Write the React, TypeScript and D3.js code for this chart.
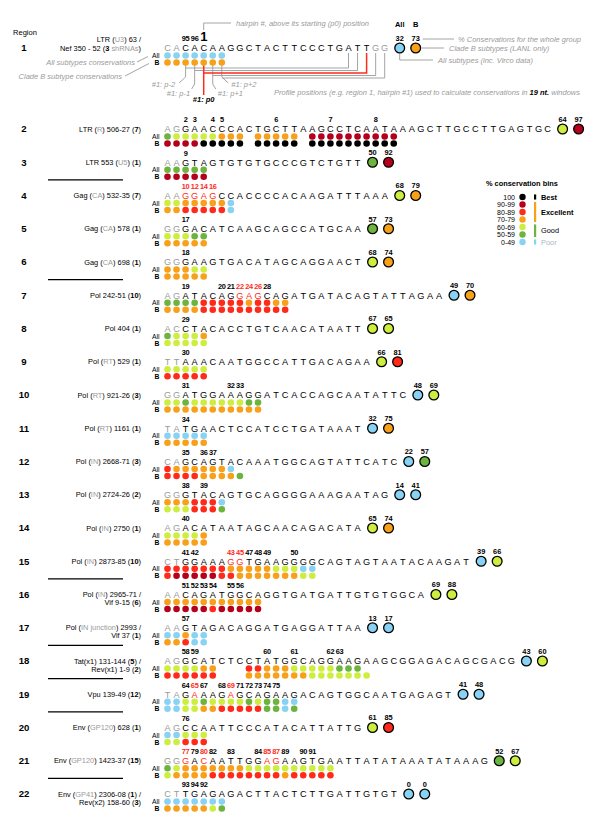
import * as d3 from 'd3';
import React from 'react';

// conservation bins (code -> colour)
const binCodes = ['k', 'd', 'r', 'o', 'y', 'g', 'b'];
const binLabels = ['100', '90-99', '80-89', '70-79', '60-69', '50-59', '0-49'];
const binColors = ['#000000', '#b5001c', '#ff2a1a', '#f8a01a', '#cdee3f', '#6cb43e', '#88d2f4'];

const regionIds = d3.range(1, 23);

// {..} = grey text, [..] = bold text
const regionLabels = [
    ['LTR ({U3}) 63 /', 'Nef 350 - 52 ([3] {shRNAs})'],
    ['LTR ({R}) 506-27 ([7])'],
    ['LTR 553 ({U5}) ([1])'],
    ['Gag ({CA}) 532-35 ([7])'],
    ['Gag ({CA}) 578 ([1])'],
    ['Gag ({CA}) 698 ([1])'],
    ['Pol 242-51 ([10])'],
    ['Pol 404 ([1])'],
    ['Pol ({RT}) 529 ([1])'],
    ['Pol ({RT}) 921-26 ([3])'],
    ['Pol ({RT}) 1161 ([1])'],
    ['Pol ({IN}) 2668-71 ([3])'],
    ['Pol ({IN}) 2724-26 ([2])'],
    ['Pol ({IN}) 2750 ([1])'],
    ['Pol ({IN}) 2873-85 ([10])'],
    ['Pol ({IN}) 2965-71 /', 'Vif 9-15 ([6])'],
    ['Pol ({IN junction}) 2993 /', 'Vif 37 ([1])'],
    ['Tat(x1) 131-144 ([5]) /', 'Rev(x1) 1-9 ([2])'],
    ['Vpu 139-49 ([12])'],
    ['Env ({GP120}) 628 ([1])'],
    ['Env ({GP120}) 1423-37 ([15])'],
    ['Env ({GP41}) 2306-08 ([1]) /', 'Rev(x2) 158-60 ([3])'],
];

const sequences = [
    'CACACAAGGCTACTTCCCTGATTGG',
    'AGGAACCCACTGCTTAAGCCTCAATAAAGCTTGCCTTGAGTGC',
    'AAGTAGTGTGTGCCCGTCTGTT',
    'AAGGAGCCACCCCACAAGATTTAAA',
    'GGGACATCAAGCAGCCATGCAA',
    'GGGAAGTGACATAGCAGGAACT',
    'AGATACAGGAGCAGATGATACAGTATTAGAA',
    'ACCTACACCTGTCAACATAATT',
    'TTAAACAATGGCCATTGACAGAA',
    'GGATGGAAAGGATCACCAGCAATATTC',
    'TATGAACTCCATCCTGATAAAT',
    'CAGCAGTACAAATGGCAGTATTCATC',
    'GGGTACAGTGCAGGGGAAAGAATAG',
    'AGACATAATAGCAACAGACATA',
    'CTGGAAAGGTGAAGGGGCAGTAGTAATACAAGAT',
    'AACAGATGGCAGGTGATGATTGTGTGGCA',
    'AAGTAGACAGGATGAGGATTAA',
    'AGGCATCTCCTATGGCAGGAAGAAGCGGAGACAGCGACG',
    'TAGAAAGAGCAGAAGACAGTGGCAATGAGAGT',
    'AGCCAATTCCCATACATTATTG',
    'GGGACAATTGGAGAAGTGAATTATATAAATATAAAG',
    'CTTGAGAGACTTACTCTTGATTGTGT',
];

const grayHead = 2;
const grayTail = [2, 0, 0, 0, 0, 0, 0, 0, 0, 0, 0, 0, 0, 0, 0, 0, 0, 0, 0, 0, 0, 0];

const hairpinNums = [
    [95, 96, 1],
    [2, 3, 4, 5, 6, 7, 8],
    [9],
    [10, 12, 14, 16],
    [17],
    [18],
    [19, 20, 21, 22, 24, 26, 28],
    [29],
    [30],
    [31, 32, 33],
    [34],
    [35, 36, 37],
    [38, 39],
    [40],
    [41, 42, 43, 45, 47, 48, 49, 50],
    [51, 52, 53, 54, 55, 56],
    [57],
    [58, 59, 60, 61, 62, 63],
    [64, 65, 67, 68, 69, 71, 72, 73, 74, 75],
    [76],
    [77, 79, 80, 82, 83, 84, 85, 87, 89, 90, 91],
    [93, 94, 92],
];

const hairpinPos = [
    [2, 3, 4],
    [2, 3, 5, 6, 12, 18, 23],
    [2],
    [2, 3, 4, 5],
    [2],
    [2],
    [2, 6, 7, 8, 9, 10, 11],
    [2],
    [2],
    [2, 7, 8],
    [2],
    [2, 4, 5],
    [2, 4],
    [2],
    [2, 3, 7, 8, 9, 10, 11, 14],
    [2, 3, 4, 5, 7, 8],
    [2],
    [2, 3, 11, 14, 18, 19],
    [2, 3, 4, 6, 7, 8, 9, 10, 11, 12],
    [2],
    [2, 3, 4, 5, 7, 10, 11, 12, 13, 15, 16],
    [2, 3, 4],
];

const redHairpins = [10, 12, 14, 16, 22, 24, 26, 43, 45, 65, 69, 77, 80, 85, 87];

// per-position bins, space = no profile position
const allBins = [
    'bbbbbbb',
    'gyyyyyooo ooooo dddddddddd',
    'ggggg',
    'yyooooob',
    'yyygg',
    'oooyy',
    'ggggrrrrrorroo',
    'gyyyo',
    'yyyyy',
    'yygyyyyyygg',
    'bbbbb',
    'roooooob',
    'ooorrrb',
    'yyyyo',
    'rrrrrrroooooyyybb',
    'ooooooooooo',
    'bbobb',
    'yyyyoo   rroooyyyyyggg',
    'bbyygyyyygyggbb',
    'bbyyy',
    'gyoooooooyyyyyyyyyy',
    'bbbbbbb',
];

const bBins = [
    'ooooooo',
    'ddddkkkkk kkkkk kkkkkkkkkk',
    'ddddd',
    'oorrrrrb',
    'ooooo',
    'ooooo',
    'oooorrrrrrrrrr',
    'yyyyy',
    'rrrrr',
    'ooooooooooo',
    'ooooo',
    'rrrroooog',
    'yyyrrrg',
    'ooooo',
    'rdddddrroooooooyy',
    'dddddrddddd',
    'oorbb',
    'rrrrrr   oooooooyyyyyyy',
    'bbyyoorrrrrggbg',
    'yyrrr',
    'yoooorrrrrrrrorrrrr',
    'oooooyg',
];

const allTotals = [32, 64, 50, 68, 57, 68, 49, 67, 66, 48, 32, 22, 14, 65, 39, 69, 13, 43, 41, 61, 52, 0];
const bTotals = [73, 97, 92, 79, 73, 74, 70, 65, 81, 69, 75, 57, 41, 74, 66, 88, 17, 60, 48, 85, 67, 0];
// bin colour shown by each total circle
const allTotalBins = 'bygygybyybbbbybybbbygb';
const bTotalBins = 'oddooooyryogboyybybryb';

const separatorsAfter = [3, 6, 15, 17, 18, 19, 21];

const FONT = "'Liberation Sans', Arial, Helvetica, sans-serif";
const GREY = '#9a9a9a';

function parseRich(s: string) {
    return s
        .split(/(\{[^}]*\}|\[[^\]]*\])/)
        .filter(Boolean)
        .map((t) => {
            if (t.startsWith('{')) return { t: t.slice(1, -1), gray: true, bold: false };
            if (t.startsWith('[')) return { t: t.slice(1, -1), gray: false, bold: true };
            return { t, gray: false, bold: false };
        });
}

const RichText: React.FC<{ s: string; x: number; y: number; size?: number }> = ({ s, x, y, size = 7.4 }) => (
    <text x={x} y={y} textAnchor="end" fontSize={size} fontFamily={FONT}>
        {parseRich(s).map((p, i) => (
            <tspan key={i} fill={p.gray ? GREY : '#000'} fontWeight={p.bold ? 'bold' : 'normal'}>
                {p.t}
            </tspan>
        ))}
    </text>
);

const App: React.FC = () => {
    const width = 600;
    const height = 826;

    // nucleotide columns
    const x = d3.scaleLinear().domain([0, 1]).range([167.5, 176.55]);
    // region rows
    const y = d3.scaleLinear().domain([2, 22]).range([129, 794]);
    const rowY = (id: number) => (id === 1 ? 48 : y(id));

    const binColor = d3.scaleOrdinal<string, string>().domain(binCodes).range(binColors);

    const legY = d3.scalePoint<string>().domain(binLabels).range([197, 242]);
    const legendGroups = [
        { label: 'Best', from: 0, to: 0, color: '#000', text: '#000', bold: true, at: 0 },
        { label: 'Excellent', from: 1, to: 3, color: binColors[3], text: '#000', bold: true, at: 2 },
        { label: 'Good', from: 4, to: 5, color: binColors[5], text: '#000', bold: false, at: 4.5 },
        { label: 'Poor', from: 6, to: 6, color: binColors[6], text: '#a8b8c0', bold: false, at: 6 },
    ];
    const legStep = legY.step();

    // region 1 schema
    const r1 = rowY(1);
    const c1x = x(sequences[0].length - 1) + 15;
    const c2x = c1x + 16;
    const levels = [68, 70.5, 73, 75.5, 78];
    const profile = [
        { p: 'p-2', i: 2, down: 77, dx: -6.5, dy: 6, lx: -10.5, ly: 87, anchor: 'end' },
        { p: 'p-1', i: 3, down: 84, dx: -3, dy: 5, lx: -4.5, ly: 96, anchor: 'end' },
        { p: 'p0', i: 4, down: 95, dx: 0, dy: 0, lx: 0, ly: 102, anchor: 'middle' },
        { p: 'p+1', i: 5, down: 84, dx: 3, dy: 5, lx: 5, ly: 96, anchor: 'start' },
        { p: 'p+2', i: 6, down: 77, dx: 6.5, dy: 6, lx: 9.5, ly: 87, anchor: 'start' },
    ];

    return (
        <svg
            width={width}
            height={height}
            style={{ position: 'absolute', left: 0, top: 0, background: '#fff' }}
            fontFamily={FONT}
        >
            <rect width={width} height={height} fill="#fff" />

            {/* header */}
            <text x={25} y={35} fontSize={7.5} textAnchor="middle">
                Region
            </text>
            <text x={c1x} y={27} fontSize={7.5} fontWeight="bold" textAnchor="middle">
                All
            </text>
            <text x={c2x} y={27} fontSize={7.5} fontWeight="bold" textAnchor="middle">
                B
            </text>

            {/* region 1 annotations */}
            <g fill="none" stroke={GREY} strokeWidth={0.9}>
                <path d={`M${x(4)},30V23H231`} />
                <path d={`M${c2x + 7},39H454`} />
                <path d={`M${c2x + 6},${r1}H444`} />
                <path d={`M${c1x},${r1 + 5.5}V60H433`} />
                <path d="M137,62L148,56.5" />
                <path d="M125,76L149,63.5" />
                {profile.map((d) =>
                    d.p === 'p0' ? null : (
                        <path key={d.p} d={`M${x(d.i)},${r1 + 16}V${d.down}l${d.dx},${d.dy}`} />
                    ),
                )}
                {profile.map((d, k) =>
                    d.p === 'p0' ? null : (
                        <path key={'w' + d.p} d={`M${x(d.i)},${levels[k]}H${x(d.i + 18)}V${r1 + 5}`} />
                    ),
                )}
            </g>
            <g fill="none" stroke="#ff2a1a" strokeWidth={1.5}>
                <path d={`M${x(4)},${r1 + 16}V${profile[2].down}`} />
                <path d={`M${x(4)},${levels[2]}H${x(22)}V${r1 + 5}`} />
            </g>
            <g fontSize={7.5} fontStyle="italic" fill={GREY}>
                <text x={236} y={25.5}>
                    hairpin #, above its starting (p0) position
                </text>
                <text x={458} y={41.5}>
                    % Conservations for the whole group
                </text>
                <text x={449} y={50.5}>
                    Clade B subtypes (LANL only)
                </text>
                <text x={438} y={62.5}>
                    All subtypes (inc. Virco data)
                </text>
                <text x={135} y={64.5} textAnchor="end">
                    All subtypes conservations
                </text>
                <text x={122} y={79} textAnchor="end">
                    Clade B subtype conservations
                </text>
                <text x={274} y={94.5}>
                    Profile positions (e.g. region 1, hairpin #1) used to calculate conservations in{' '}
                    <tspan fill="#000" fontWeight="bold">
                        19 nt.
                    </tspan>{' '}
                    windows
                </text>
                {profile.map((d) => (
                    <text
                        key={d.p}
                        x={x(d.i) + d.lx}
                        y={d.ly}
                        textAnchor={d.anchor as any}
                        fill={d.p === 'p0' ? '#000' : GREY}
                        fontWeight={d.p === 'p0' ? 'bold' : 'normal'}
                    >
                        #1: {d.p}
                    </text>
                ))}
            </g>

            {/* separators */}
            {separatorsAfter.map((id) => {
                const sy = (rowY(id) + rowY(id + 1)) / 2 + 1;
                return <line key={id} x1={48} x2={123} y1={sy} y2={sy} stroke="#000" strokeWidth={1.4} />;
            })}

            {/* regions */}
            {regionIds.map((id, ri) => {
                const cy = rowY(id);
                const seq = sequences[ri];
                const last = seq.length - 1;
                const cx1 = x(last) + 15;
                const cx2 = cx1 + 16;
                const lines = regionLabels[ri];
                const redPos = hairpinPos[ri].filter((p, k) => redHairpins.includes(hairpinNums[ri][k]));
                const labelYs = id === 1 ? [cy - 9, cy] : [cy, cy + 8];
                return (
                    <g key={id}>
                        <text x={24} y={cy + 3.4} fontSize={9.6} fontWeight="bold" textAnchor="middle">
                            {id}
                        </text>
                        {lines.map((l, k) => (
                            <RichText key={k} s={l} x={141} y={labelYs[k] + 2.7} />
                        ))}
                        {/* hairpin numbers */}
                        {hairpinNums[ri].map((n, k) => {
                            const big = id === 1 && n === 1;
                            return (
                                <text
                                    key={k}
                                    x={x(hairpinPos[ri][k])}
                                    y={id === 1 ? 40.5 : cy - 6.6}
                                    fontSize={big ? 13 : 7.4}
                                    fontWeight="bold"
                                    textAnchor="middle"
                                    fill={redHairpins.includes(n) ? '#ff2a1a' : '#000'}
                                    letterSpacing={-0.3}
                                >
                                    {n}
                                </text>
                            );
                        })}
                        {/* sequence */}
                        {seq.split('').map((c, i) => {
                            const gray = i < grayHead || i > last - grayTail[ri];
                            const red = redPos.includes(i);
                            return (
                                <text
                                    key={i}
                                    x={x(i)}
                                    y={cy + 3.3}
                                    fontSize={9.2}
                                    textAnchor="middle"
                                    fill={red ? '#ff2a1a' : gray ? GREY : '#000'}
                                >
                                    {c}
                                </text>
                            );
                        })}
                        {/* row labels */}
                        <text x={159.5} y={cy + 10} fontSize={6.8} textAnchor="end">
                            All
                        </text>
                        <text x={159.5} y={cy + 17} fontSize={6.8} fontWeight="bold" textAnchor="end">
                            B
                        </text>
                        {/* conservation dots */}
                        {allBins[ri].split('').map((b, i) =>
                            b === ' ' ? null : (
                                <circle key={'a' + i} cx={x(i)} cy={cy + 7.5} r={3.3} fill={binColor(b)} />
                            ),
                        )}
                        {bBins[ri].split('').map((b, i) =>
                            b === ' ' ? null : (
                                <circle key={'b' + i} cx={x(i)} cy={cy + 14.5} r={3.3} fill={binColor(b)} />
                            ),
                        )}
                        {/* totals */}
                        {[
                            [cx1, allTotals[ri], allTotalBins[ri]],
                            [cx2, bTotals[ri], bTotalBins[ri]],
                        ].map(([cx, v, b], k) => (
                            <g key={'t' + k}>
                                <circle
                                    cx={cx as number}
                                    cy={cy}
                                    r={4.9}
                                    fill={binColor(b as string)}
                                    stroke="#000"
                                    strokeWidth={1.3}
                                />
                                <text x={cx as number} y={cy - 7.2} fontSize={7.4} fontWeight="bold" textAnchor="middle">
                                    {v}
                                </text>
                            </g>
                        ))}
                    </g>
                );
            })}

            {/* legend */}
            <g>
                <text x={486} y={186} fontSize={7.4} fontWeight="bold">
                    % conservation bins
                </text>
                {binLabels.map((l, i) => (
                    <g key={l}>
                        <text x={515} y={(legY(l) ?? 0) + 2.6} fontSize={7} textAnchor="end">
                            {l}
                        </text>
                        <circle cx={522.5} cy={legY(l)} r={3.2} fill={binColors[i]} />
                    </g>
                ))}
                {legendGroups.map((g) => {
                    const y0 = (legY(binLabels[g.from]) ?? 0) - legStep / 2 + 1.2;
                    const y1 = (legY(binLabels[g.to]) ?? 0) + legStep / 2 - 1.2;
                    const ty = (legY(binLabels[0]) ?? 0) + g.at * legStep;
                    return (
                        <g key={g.label}>
                            <rect x={534} y={y0} width={2.2} height={y1 - y0} fill={g.color} />
                            <text
                                x={541}
                                y={ty + 2.7}
                                fontSize={7.4}
                                fontWeight={g.bold ? 'bold' : 'normal'}
                                fill={g.text}
                            >
                                {g.label}
                            </text>
                        </g>
                    );
                })}
            </g>
        </svg>
    );
};

export default App;
